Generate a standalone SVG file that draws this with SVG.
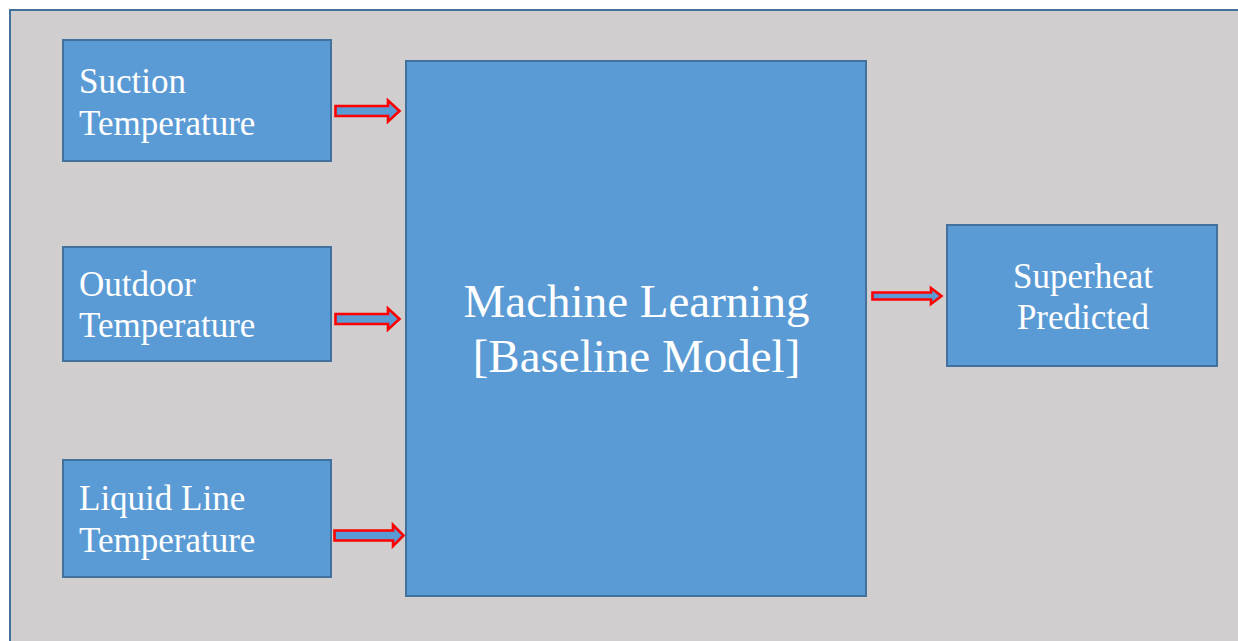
<svg xmlns="http://www.w3.org/2000/svg" width="1238" height="641" viewBox="0 0 1238 641">
<style>
.box{fill:#5B9BD5;stroke:#41719C;stroke-width:2}
.arr{fill:#5B9BD5;stroke:#FF0000;stroke-width:2.6;stroke-linejoin:miter}
.t{font-family:"Liberation Serif","Times New Roman",serif;fill:#FFFFFF;font-size:35px}
.big{font-size:47px}
.c{text-anchor:middle}
</style>
<rect x="0" y="0" width="1238" height="641" fill="#FFFFFF"/>
<rect id="frame" x="10" y="10" width="1240" height="650" fill="#D0CECE" stroke="#41719C" stroke-width="2"/>
<g id="n_suction">
<rect class="box" x="63" y="40" width="268" height="121"/>
<text class="t" x="79" y="93">Suction</text>
<text class="t" x="79" y="135">Temperature</text>
</g>
<g id="n_outdoor">
<rect class="box" x="63" y="247" width="268" height="114"/>
<text class="t" x="79" y="296">Outdoor</text>
<text class="t" x="79" y="337">Temperature</text>
</g>
<g id="n_liquid">
<rect class="box" x="63" y="460" width="268" height="117"/>
<text class="t" x="79" y="510">Liquid Line</text>
<text class="t" x="79" y="552">Temperature</text>
</g>
<g id="n_ml">
<rect class="box" x="406" y="61" width="460" height="535"/>
<text class="t big c" x="636.5" y="317">Machine Learning</text>
<text class="t big c" x="636.5" y="372">[Baseline Model]</text>
</g>
<g id="n_superheat">
<rect class="box" x="947" y="225" width="270" height="141"/>
<text class="t c" x="1083" y="288">Superheat</text>
<text class="t c" x="1083" y="329">Predicted</text>
</g>
<g id="connectors">
<path class="arr" d="M335.5,106 H388 V100.5 L399.5,111 L388,121.5 V116 H335.5 Z"/>
<path class="arr" d="M335.5,314 H388 V308.5 L399.5,319 L388,329.5 V324 H335.5 Z"/>
<path class="arr" d="M334.5,530.5 H393 V525 L403.5,535.5 L393,546 V540.5 H334.5 Z"/>
<path class="arr" d="M872.5,292.5 H931 V288 L941.5,296 L931,304 V299.5 H872.5 Z"/>
</g>
</svg>
